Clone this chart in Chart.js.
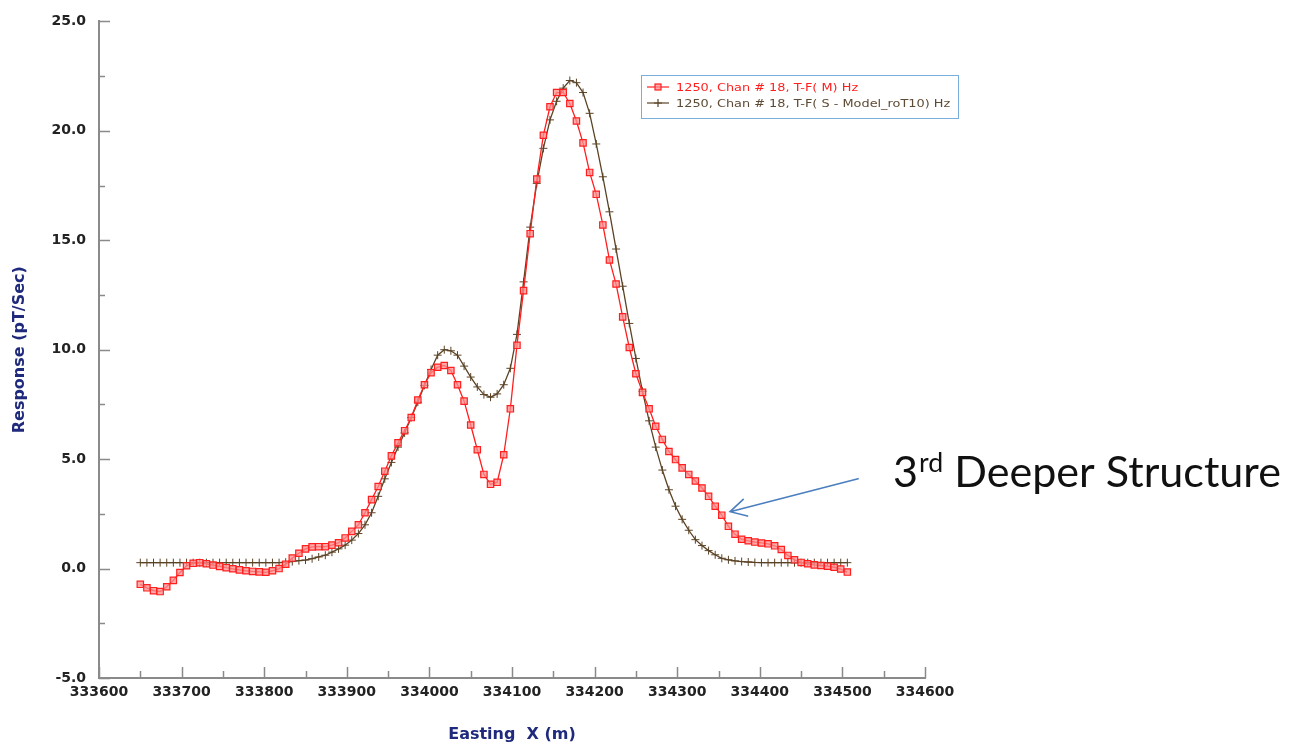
<!DOCTYPE html>
<html>
<head>
<meta charset="utf-8">
<script src="https://cdn.jsdelivr.net/npm/chart.js@4.4.1/dist/chart.umd.min.js"></script>
<style>
  html, body { margin: 0; padding: 0; background: #fff; }
  canvas { display: block; }
</style>
</head>
<body>
<canvas id="profile" width="1295" height="745"></canvas>
<script>
// station eastings (m) along line 1250
const eastings = [
    333650, 333658, 333666, 333674, 333682, 333690, 333698, 333706, 333714, 333722,
    333730, 333738, 333746, 333754, 333762, 333770, 333778, 333786, 333794, 333802,
    333810, 333818, 333826, 333834, 333842, 333850, 333858, 333866, 333874, 333882,
    333890, 333898, 333906, 333914, 333922, 333930, 333938, 333946, 333954, 333962,
    333970, 333978, 333986, 333994, 334002, 334010, 334018, 334026, 334034, 334042,
    334050, 334058, 334066, 334074, 334082, 334090, 334098, 334106, 334114, 334122,
    334130, 334138, 334146, 334154, 334162, 334170, 334178, 334186, 334194, 334202,
    334210, 334218, 334226, 334234, 334242, 334250, 334258, 334266, 334274, 334282,
    334290, 334298, 334306, 334314, 334322, 334330, 334338, 334346, 334354, 334362,
    334370, 334378, 334386, 334394, 334402, 334410, 334418, 334426, 334434, 334442,
    334450, 334458, 334466, 334474, 334482, 334490, 334498, 334506
];

// T-F(M) measured response, pT/Sec
const measured = [
    -0.72, -0.88, -1.01, -1.05, -0.83, -0.54, -0.18, 0.13, 0.24, 0.27,
    0.22, 0.16, 0.10, 0.04, -0.01, -0.06, -0.10, -0.13, -0.15, -0.17,
    -0.10, 0.00, 0.20, 0.48, 0.70, 0.90, 0.99, 1.00, 1.00, 1.07,
    1.18, 1.40, 1.70, 2.00, 2.55, 3.15, 3.75, 4.45, 5.15, 5.75,
    6.30, 6.90, 7.70, 8.40, 8.95, 9.20, 9.28, 9.05, 8.40, 7.65,
    6.56, 5.43, 4.30, 3.85, 3.94, 5.20, 7.30, 10.20, 12.70, 15.30,
    17.80, 19.80, 21.10, 21.75, 21.75, 21.25, 20.45, 19.45, 18.10, 17.10,
    15.70, 14.10, 13.00, 11.50, 10.10, 8.90, 8.05, 7.30, 6.50, 5.90,
    5.35, 4.98, 4.60, 4.30, 4.00, 3.68, 3.30, 2.85, 2.44, 1.93,
    1.57, 1.34, 1.27, 1.21, 1.17, 1.13, 1.04, 0.87, 0.60, 0.40,
    0.28, 0.22, 0.17, 0.14, 0.11, 0.06, -0.02, -0.16
];

// T-F(S - Model_roT10) synthetic response, pT/Sec
const modelled = [
    0.27, 0.27, 0.27, 0.27, 0.27, 0.27, 0.27, 0.27, 0.27, 0.27,
    0.27, 0.27, 0.27, 0.27, 0.27, 0.27, 0.27, 0.27, 0.27, 0.27,
    0.27, 0.27, 0.29, 0.32, 0.36, 0.39, 0.45, 0.53, 0.61, 0.75,
    0.90, 1.07, 1.30, 1.60, 2.00, 2.55, 3.30, 4.10, 4.85, 5.55,
    6.20, 6.90, 7.60, 8.37, 9.10, 9.75, 10.00, 9.95, 9.75, 9.25,
    8.75, 8.30, 7.95, 7.83, 7.98, 8.40, 9.15, 10.70, 13.10, 15.60,
    17.60, 19.20, 20.50, 21.35, 21.95, 22.30, 22.20, 21.75, 20.80, 19.40,
    17.90, 16.30, 14.60, 12.90, 11.20, 9.60, 8.10, 6.75, 5.55, 4.50,
    3.60, 2.85, 2.25, 1.75, 1.32, 1.05, 0.82, 0.63, 0.47, 0.40,
    0.35, 0.32, 0.30, 0.28, 0.27, 0.27, 0.27, 0.27, 0.27, 0.27,
    0.27, 0.27, 0.27, 0.27, 0.27, 0.27, 0.27, 0.27
];

const seriesLabels = [
    '1250, Chan # 18, T-F( M) Hz',
    '1250, Chan # 18, T-F( S - Model_roT10) Hz'
];

// where the arrow points (easting, response)
const arrowTarget = [334364, 2.6];

const RED = '#ff1f1f';
const BROWN = '#5b4325';
const NAVY = '#1f2a7c';
const AXIS_GREY = '#8a8a8a';

function toPoints(values) {
    return eastings.map((e, i) => ({ x: e, y: values[i] }));
}

// inward tick marks, major + minor, like the original plotting package
const inwardTicks = {
    id: 'inwardTicks',
    afterDraw(chart) {
        const { ctx, chartArea: area, scales: { x, y } } = chart;
        ctx.save();
        ctx.strokeStyle = AXIS_GREY;
        ctx.lineWidth = 1.5;
        ctx.beginPath();
        for (let v = x.min; v <= x.max; v += 50) {
            const px = Math.round(x.getPixelForValue(v)) + 0.5;
            const len = (v % 100 === 0) ? 11 : 7;
            ctx.moveTo(px, area.bottom);
            ctx.lineTo(px, area.bottom - len);
        }
        for (let v = y.min; v <= y.max; v += 2.5) {
            const py = Math.round(y.getPixelForValue(v)) + 0.5;
            const len = (v % 5 === 0) ? 11 : 6;
            ctx.moveTo(area.left, py);
            ctx.lineTo(area.left + len, py);
        }
        ctx.stroke();
        ctx.restore();
    }
};

// boxed legend floating over the top right of the plot
const boxLegend = {
    id: 'boxLegend',
    afterDraw(chart) {
        const ctx = chart.ctx;
        const left = 641, top = 75, w = 317, h = 43;
        ctx.save();
        ctx.fillStyle = '#ffffff';
        ctx.fillRect(left, top, w, h);
        ctx.strokeStyle = '#7aaedc';
        ctx.lineWidth = 1;
        ctx.strokeRect(left + 0.5, top + 0.5, w, h);

        ctx.textBaseline = 'middle';
        chart.data.datasets.forEach((ds, i) => {
            const yy = top + 12 + i * 16;
            ctx.strokeStyle = ds.borderColor;
            ctx.lineWidth = 1.2;
            ctx.beginPath();
            ctx.moveTo(left + 6, yy);
            ctx.lineTo(left + 28, yy);
            ctx.stroke();
            const mx = left + 17;
            if (ds.pointStyle === 'rect') {
                ctx.fillStyle = ds.pointBackgroundColor;
                ctx.fillRect(mx - 3, yy - 3, 6, 6);
                ctx.strokeRect(mx - 3, yy - 3, 6, 6);
            } else {
                ctx.beginPath();
                ctx.moveTo(mx - 4, yy); ctx.lineTo(mx + 4, yy);
                ctx.moveTo(mx, yy - 4); ctx.lineTo(mx, yy + 4);
                ctx.stroke();
            }
            // the slide stretched the chart sideways; widen the text to match
            ctx.save();
            ctx.translate(left + 35, yy + 1);
            ctx.scale(1.17, 1);
            ctx.font = '11px "DejaVu Sans"';
            ctx.fillStyle = i === 0 ? RED : '#5e4b35';
            ctx.fillText(ds.label, 0, 0);
            ctx.restore();
        });
        ctx.restore();
    }
};

// slide callout: "3rd Deeper Structure" with an arrow onto the red curve
const callout = {
    id: 'callout',
    afterDraw(chart) {
        const { ctx, scales: { x, y } } = chart;
        const tipX = x.getPixelForValue(arrowTarget[0]);
        const tipY = y.getPixelForValue(arrowTarget[1]);
        const tailX = tipX + 128, tailY = tipY - 33;

        ctx.save();
        ctx.strokeStyle = '#4a7ebf';
        ctx.lineWidth = 1.6;
        ctx.lineCap = 'round';
        ctx.beginPath();
        ctx.moveTo(tailX, tailY);
        ctx.lineTo(tipX, tipY);
        const ang = Math.atan2(tipY - tailY, tipX - tailX);
        const head = 18, spread = 0.5;
        ctx.moveTo(tipX - head * Math.cos(ang - spread), tipY - head * Math.sin(ang - spread));
        ctx.lineTo(tipX, tipY);
        ctx.lineTo(tipX - head * Math.cos(ang + spread), tipY - head * Math.sin(ang + spread));
        ctx.stroke();

        // text, scaled so it spans the same width as on the slide
        const base = 36;
        const family = 'Lato, "Open Sans", sans-serif';
        const measure = (s) => {
            ctx.font = `${s}px ${family}`;
            const a = ctx.measureText('3').width;
            const c = ctx.measureText(' Deeper Structure').width;
            ctx.font = `${s * 0.62}px ${family}`;
            const b = ctx.measureText('rd').width;
            return a + b + c;
        };
        const size = base * 387 / measure(base);
        const startX = tailX + 35, baseY = tailY + 8;
        ctx.fillStyle = '#111';
        ctx.textBaseline = 'alphabetic';
        ctx.font = `${size}px ${family}`;
        ctx.fillText('3', startX, baseY);
        let cx = startX + ctx.measureText('3').width;
        ctx.font = `${size * 0.62}px ${family}`;
        ctx.fillText('rd', cx + 1, baseY - size * 0.33);
        cx += ctx.measureText('rd').width + 1;
        ctx.font = `${size}px ${family}`;
        ctx.fillText(' Deeper Structure', cx, baseY);
        ctx.restore();
    }
};

const tickFont = { family: '"DejaVu Sans"', size: 14, weight: 'bold' };

new Chart(document.getElementById('profile').getContext('2d'), {
    type: 'line',
    data: {
        datasets: [
            {
                label: seriesLabels[0],
                data: toPoints(measured),
                borderColor: RED,
                borderWidth: 1.3,
                pointStyle: 'rect',
                pointRadius: 4.5,
                pointBackgroundColor: 'rgba(255, 140, 140, 0.75)',
                pointBorderColor: RED,
                pointBorderWidth: 1.2,
                tension: 0
            },
            {
                label: seriesLabels[1],
                data: toPoints(modelled),
                borderColor: BROWN,
                borderWidth: 1.3,
                pointStyle: 'cross',
                pointRadius: 4,
                pointBorderColor: BROWN,
                pointBorderWidth: 1,
                tension: 0
            }
        ]
    },
    options: {
        responsive: false,
        animation: false,
        layout: { padding: { top: 15, right: 370, bottom: 0, left: 0 } },
        plugins: {
            legend: { display: false },
            tooltip: { enabled: false }
        },
        scales: {
            x: {
                type: 'linear',
                min: 333600,
                max: 334600,
                grid: { display: false, drawTicks: false },
                border: { color: AXIS_GREY, width: 2 },
                ticks: {
                    stepSize: 100,
                    autoSkip: false,
                    maxRotation: 0,
                    padding: 6,
                    color: '#222',
                    font: tickFont,
                    callback: (v) => String(v)
                },
                title: {
                    display: true,
                    text: 'Easting  X (m)',
                    color: NAVY,
                    font: { family: '"DejaVu Sans"', size: 16, weight: 'bold' },
                    padding: { top: 0, bottom: 1 }
                },
                afterFit: (scale) => { scale.height = 67; }
            },
            y: {
                min: -5,
                max: 25,
                grid: { display: false, drawTicks: false },
                border: { color: AXIS_GREY, width: 2 },
                ticks: {
                    stepSize: 5,
                    padding: 13,
                    color: '#222',
                    font: tickFont,
                    callback: (v) => v.toFixed(1)
                },
                title: {
                    display: true,
                    text: 'Response (pT/Sec)',
                    color: NAVY,
                    font: { family: '"DejaVu Sans"', size: 16, weight: 'bold' },
                    padding: { top: 10, bottom: 0 }
                },
                afterFit: (scale) => { scale.width = 99; }
            }
        }
    },
    plugins: [inwardTicks, boxLegend, callout]
});
</script>
</body>
</html>
